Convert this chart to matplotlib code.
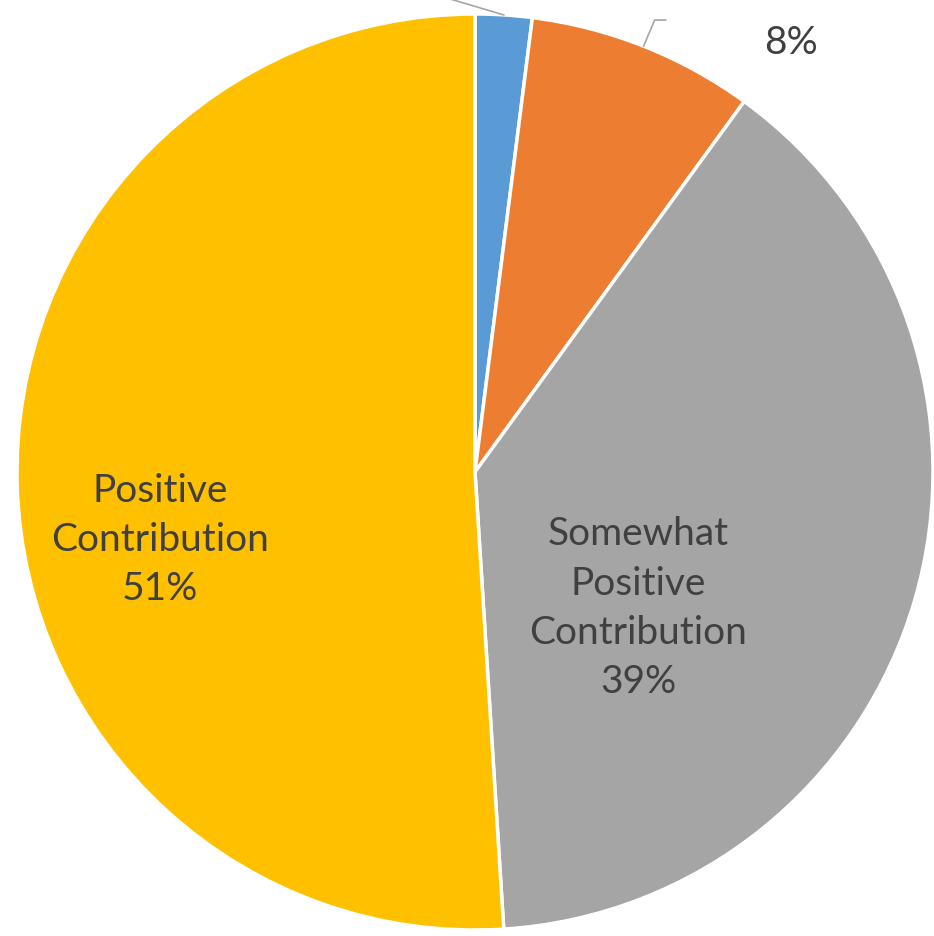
import numpy as np
import matplotlib
matplotlib.use("Agg")
import matplotlib.pyplot as plt

plt.rcParams["font.family"] = ["Lato", "DejaVu Sans"]

# data
CATEGORIES = [
    "Negative Contribution",
    "Somewhat Negative\nContribution",
    "Somewhat\nPositive\nContribution",
    "Positive\nContribution",
]
SHARES = [2, 8, 39, 51]
COLORS = ["#5B9BD5", "#ED7D31", "#A5A5A5", "#FFC000"]

TEXT_COLOR = "#404040"
LEADER_COLOR = "#A6A6A6"

fig = plt.figure(figsize=(9.34, 9.36), dpi=100)
ax = fig.add_axes([0, 0, 1, 1])

wedges, _ = ax.pie(
    SHARES,
    colors=COLORS,
    startangle=90,
    counterclock=False,
    radius=1,
    wedgeprops=dict(edgecolor="white", linewidth=2.5),
)

# picture is cropped: pie centre at (475, 472) px, radius 458 px
R_PX = 458
ax.set_xlim(-475 / R_PX, (934 - 475) / R_PX)
ax.set_ylim(-(936 - 472) / R_PX, 472 / R_PX)
ax.set_aspect("auto")
ax.axis("off")


def label(i):
    return f"{CATEGORIES[i]}\n{SHARES[i]}%"


def mid_point(w, r=1.0):
    ang = np.deg2rad((w.theta1 + w.theta2) / 2)
    return r * np.cos(ang), r * np.sin(ang)


text_kw = dict(ha="center", va="center", fontsize=28, color=TEXT_COLOR,
               linespacing=1.45, clip_on=False)

# inside labels
ax.text(-0.688, -0.148, label(3), **text_kw)
ax.text(0.356, -0.297, label(2), **text_kw)

# outside labels with leader lines (mostly cut off by the crop)
bx, by = mid_point(wedges[0])
ax.plot([bx, bx - 0.27], [by, by + 0.08], color=LEADER_COLOR, lw=1.2,
        clip_on=False)
ax.text(-0.45, 1.2, label(0), **text_kw)

ox, oy = mid_point(wedges[1])
ax.plot([ox, ox + 0.024, ox + 0.048], [oy, oy + 0.057, oy + 0.057],
        color=LEADER_COLOR, lw=1.2, clip_on=False)
ax.text(0.69, 1.058, label(1), **{**text_kw, "linespacing": 1.68})

fig.savefig("out.png", dpi=100)
